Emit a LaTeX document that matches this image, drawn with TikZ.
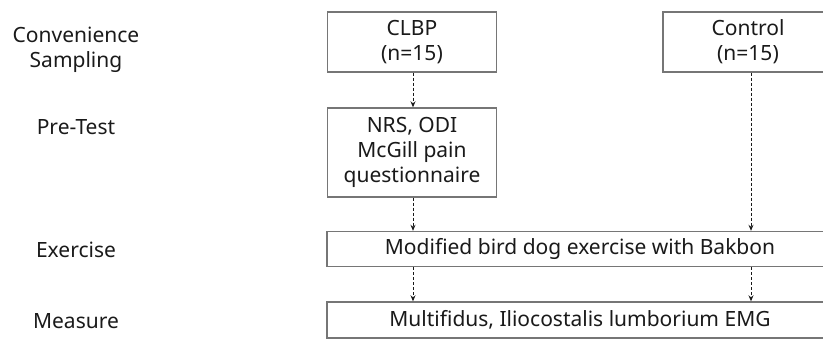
\documentclass[tikz,border=0pt]{standalone}
\usepackage{fontspec}
\setmainfont{Noto Sans}
\usetikzlibrary{arrows.meta}
\definecolor{boxline}{HTML}{767676}
\definecolor{txt}{HTML}{1A1A1A}
\begin{document}
\begin{tikzpicture}[x=1pt,y=-1pt,
  box/.style={draw=boxline,line width=1.4pt,fill=white,inner sep=0pt,align=center,text=txt,
    font=\fontsize{21}{25}\selectfont},
  lbl/.style={inner sep=0pt,align=center,text=txt,font=\fontsize{21}{25}\selectfont},
  flow/.style={draw=txt,line width=0.8pt,dash pattern=on 3pt off 2pt,-{Stealth[length=6pt,width=5pt]}}]
\clip (0,0) rectangle (823,339);
\useasboundingbox (0,0) rectangle (823,339);
% left labels
\node[lbl] (l1) at (76,50) {Convenience\\Sampling};
\node[lbl] (l2) at (76,127) {Pre-Test};
\node[lbl] (l3) at (76,250) {Exercise};
\node[lbl] (l4) at (76,321) {Measure};
% boxes
\node[box,minimum width=169pt,minimum height=60pt] (clbp) at (412,42) {CLBP\\(n=15)};
\node[box,minimum width=170pt,minimum height=60pt] (ctrl) at (748,42) {Control\\(n=15)};
\node[box,minimum width=169pt,minimum height=89pt] (pre) at (412,152.5) {NRS, ODI\\McGill pain\\questionnaire};
\node[box,minimum width=506pt,minimum height=35pt] (ex) at (580,249) {Modified bird dog exercise with Bakbon};
\node[box,minimum width=506pt,minimum height=36pt] (ms) at (580,320) {Multifidus, Iliocostalis lumborium EMG};
% connectors
\coordinate (a1) at (413,72);
\coordinate (a2) at (751,72);
\draw[flow] (clbp.south -| a1) -- (pre.north -| a1);
\draw[flow] (pre.south -| a1) -- (ex.north -| a1);
\draw[flow] (ex.south -| a1) -- (ms.north -| a1);
\draw[flow] (ctrl.south -| a2) -- (ex.north -| a2);
\draw[flow] (ex.south -| a2) -- (ms.north -| a2);
\end{tikzpicture}
\end{document}
